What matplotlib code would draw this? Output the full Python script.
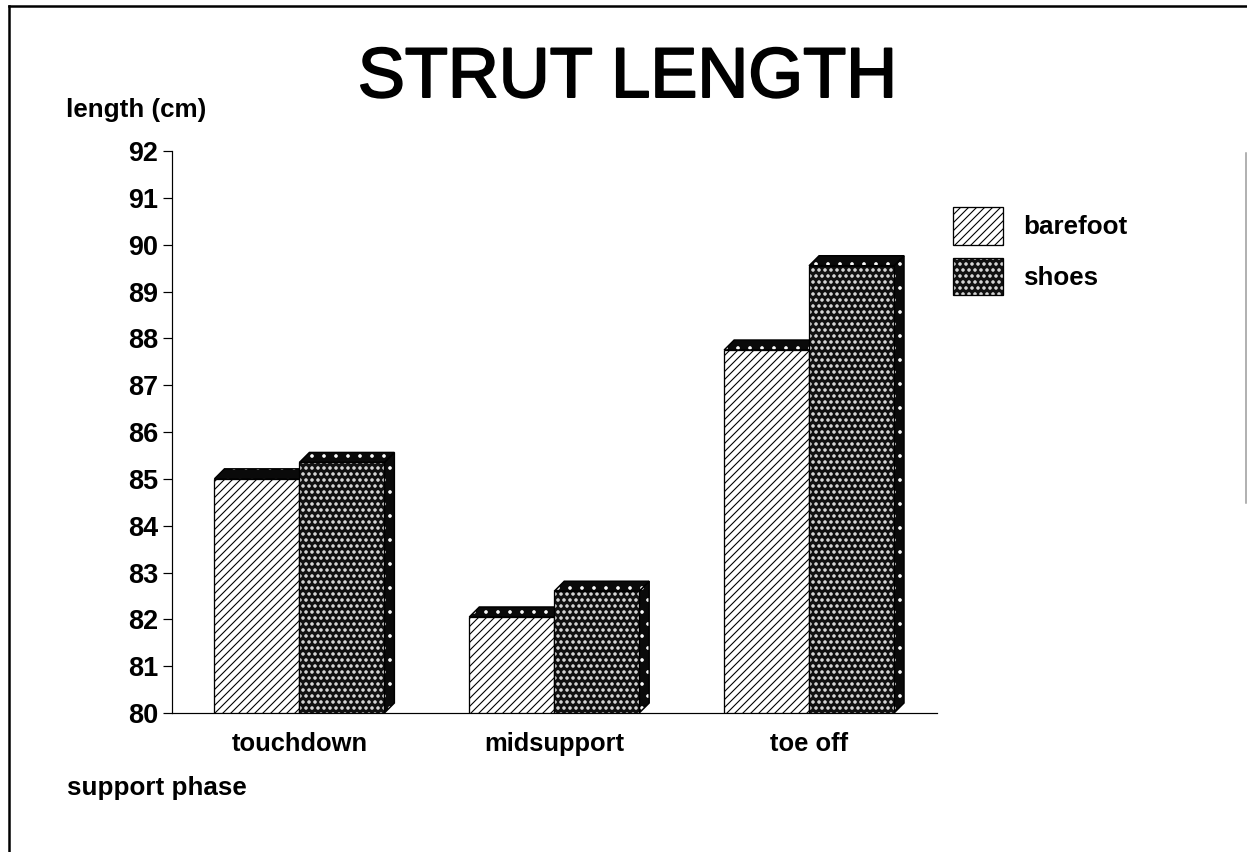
import matplotlib
matplotlib.use('Agg')
import matplotlib.pyplot as plt
import matplotlib.patheffects as pe
from matplotlib.colors import to_rgba
from matplotlib.lines import Line2D
from matplotlib.patches import Patch, Polygon

# dpi 72 so font sizes read as pixels
W, H = 1247, 852
DPI = 72

categories = ['touchdown', 'midsupport', 'toe off']
barefoot = [85.0, 82.05, 87.75]
shoes = [85.35, 82.6, 89.55]
yticks = list(range(80, 93))

plt.rcParams['font.family'] = ['Liberation Sans', 'DejaVu Sans']


def px(x, y):
    return x / W, 1 - y / H


fig = plt.figure(figsize=(W / DPI, H / DPI), dpi=DPI)
ax = fig.add_axes([172 / W, 1 - 713 / H, (936.5 - 172) / W, (713 - 151) / H])
ax.set_xlim(-0.5, 2.5)
ax.set_ylim(80, 92)

bar_w = 1 / 3
depth_x = 10 / 255
depth_y = 10 / (562 / 12)
dot_color = '#f0f0f0'


def draw_bar(x, val, face, hatch, hatch_lw):
    # front, then side and top faces for the fake 3d look
    side = [(x + bar_w, 80), (x + bar_w + depth_x, 80 + depth_y),
            (x + bar_w + depth_x, val + depth_y), (x + bar_w, val)]
    top = [(x, val), (x + depth_x, val + depth_y),
           (x + bar_w + depth_x, val + depth_y), (x + bar_w, val)]
    plt.rcParams['hatch.linewidth'] = 1.2
    for pts in (side, top):
        ax.add_patch(Polygon(pts, closed=True, facecolor='#0a0a0a', edgecolor='white',
                             hatch='.', linewidth=0, zorder=2))
        ax.add_patch(Polygon(pts, closed=True, fill=False, edgecolor='black',
                             linewidth=1.5, zorder=2))
    plt.rcParams['hatch.linewidth'] = hatch_lw
    ax.bar(x, val - 80, bar_w, bottom=80, align='edge', color=face, edgecolor=hatch[1],
           hatch=hatch[0], linewidth=0, zorder=3)
    ax.bar(x, val - 80, bar_w, bottom=80, align='edge', fill=False, edgecolor='black',
           linewidth=1.3, zorder=3)


for i in range(len(categories)):
    draw_bar(i - bar_w, barefoot[i], 'white', ('///', 'black'), 1.1)
    draw_bar(i, shoes[i], '#111111', ('..', dot_color), 2.2)

for s in ('top', 'right'):
    ax.spines[s].set_visible(False)
for s in ('left', 'bottom'):
    ax.spines[s].set_linewidth(1.2)
ax.set_yticks(yticks)
ax.set_xticks(range(len(categories)))
ax.set_xticklabels(categories, fontsize=25.5, fontweight='bold')
ax.tick_params(axis='x', length=0, pad=19)
ax.tick_params(axis='y', length=9, width=1.2, pad=5)
for lab in ax.get_yticklabels():
    lab.set_fontsize(27)
    lab.set_fontweight('bold')

title = fig.text(*px(627.5, 79), 'STRUT LENGTH', fontsize=70.5, ha='center', va='center')
title.set_path_effects([pe.withStroke(linewidth=2, foreground='black')])
fig.text(*px(66, 110), 'length (cm)', fontsize=26, ha='left', va='center', fontweight='bold')
fig.text(*px(67, 788), 'support phase', fontsize=26, ha='left', va='center', fontweight='bold')

bare_handle = Patch(facecolor='white', edgecolor='black', hatch='///', linewidth=1.3)
shoe_handle = Patch(facecolor='#111111', edgecolor=dot_color, hatch='..', linewidth=1.3)
leg = ax.legend([bare_handle, shoe_handle], ['barefoot', 'shoes'], loc='upper left',
                bbox_to_anchor=px(948, 202), bbox_transform=fig.transFigure,
                frameon=False, prop={'size': 26, 'weight': 'bold'}, handlelength=1.92,
                handleheight=1.85, labelspacing=0.5, handletextpad=0.78,
                borderaxespad=0, borderpad=0.2)
# keep the dots light but give the swatch a black outline
leg.get_patches()[0].set_hatch_linewidth(1.1)
leg.get_patches()[1].set_hatch_linewidth(2.2)
leg.get_patches()[1].set_edgecolor('black')
leg.get_patches()[1]._hatch_color = to_rgba(dot_color)

# scanned page frame
fig.add_artist(Line2D([9 / W, 9 / W], [0, 1 - 6 / H], color='black', lw=2.5))
fig.add_artist(Line2D([9 / W, 1], [1 - 6 / H, 1 - 6 / H], color='black', lw=2.5))
fig.add_artist(Line2D([1246 / W, 1246 / W], [1 - 153 / H, 1 - 503 / H], color='#999999', lw=1.5))

fig.savefig('out.png', dpi=DPI, facecolor='white')
